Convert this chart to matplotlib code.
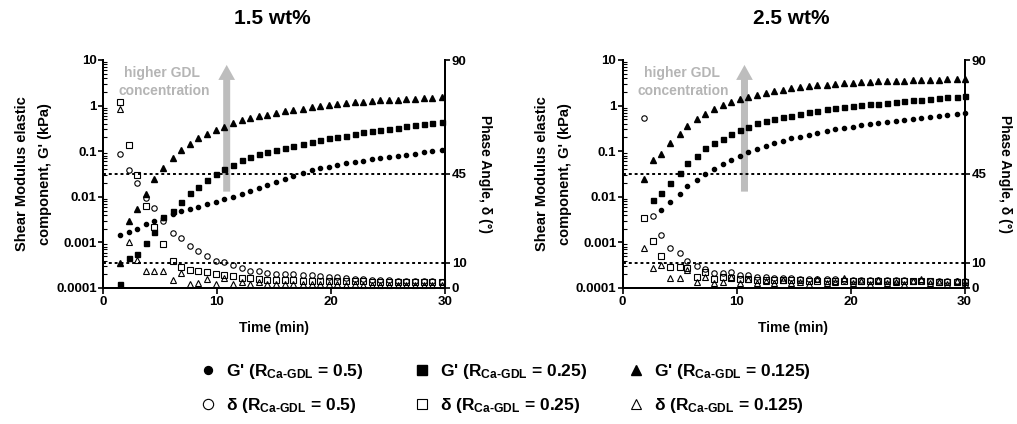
import numpy as np
import matplotlib.pyplot as plt
from matplotlib.ticker import LogLocator, NullFormatter

plt.rcParams['font.family'] = ['Liberation Sans', 'DejaVu Sans']
plt.rcParams['font.weight'] = 'bold'
plt.rcParams['mathtext.fontset'] = 'custom'
plt.rcParams['mathtext.rm'] = 'Liberation Sans:bold'
plt.rcParams['mathtext.bf'] = 'Liberation Sans:bold'
plt.rcParams['mathtext.it'] = 'Liberation Sans:bold'

# ---- data: 1.5 wt% ----
left_time = [1.5, 2.3, 3.0, 3.8, 4.5, 5.3, 6.1, 6.8, 7.6, 8.3, 9.1, 9.9, 10.6, 11.4,
             12.2, 12.9, 13.7, 14.4, 15.2, 16.0, 16.7, 17.5, 18.3, 19.0, 19.8, 20.5,
             21.3, 22.1, 22.8, 23.6, 24.3, 25.1, 25.9, 26.6, 27.4, 28.2, 28.9, 29.7]
left_g_05 = [0.00144, 0.0017, 0.002, 0.0025, 0.003, 0.0035, 0.0042, 0.0049, 0.0054, 0.006,
             0.0069, 0.0078, 0.0089, 0.010, 0.0116, 0.0137, 0.0155, 0.018, 0.021, 0.025,
             0.029, 0.033, 0.038, 0.042, 0.046, 0.050, 0.054, 0.058, 0.062, 0.066, 0.070,
             0.074, 0.079, 0.084, 0.089, 0.095, 0.101, 0.107]
left_g_025 = [0.00012, 0.00046, 0.00055, 0.00095, 0.0017, 0.0036, 0.0050, 0.0078, 0.012,
              0.0166, 0.0235, 0.031, 0.041, 0.051, 0.063, 0.075, 0.087, 0.098, 0.108, 0.12,
              0.13, 0.145, 0.16, 0.175, 0.19, 0.205, 0.22, 0.24, 0.26, 0.275, 0.29, 0.31,
              0.33, 0.35, 0.37, 0.39, 0.41, 0.43]
left_g_0125 = [0.00036, 0.0030, 0.0054, 0.0114, 0.024, 0.042, 0.072, 0.108, 0.146, 0.19,
               0.24, 0.29, 0.345, 0.41, 0.48, 0.54, 0.59, 0.63, 0.69, 0.75, 0.80, 0.86,
               0.92, 0.98, 1.03, 1.08, 1.13, 1.18, 1.22, 1.26, 1.30, 1.33, 1.36, 1.40,
               1.43, 1.46, 1.49, 1.52]
left_d_05 = [52.9, 46.6, 41.3, 35.4, 31.5, 26.5, 21.7, 19.6, 16.6, 14.6, 12.6, 10.8, 10.1,
             9.2, 7.8, 6.8, 6.6, 5.8, 5.6, 5.6, 5.5, 5.3, 5.1, 4.8, 4.5, 4.2, 3.9, 3.7,
             3.5, 3.3, 3.1, 3.0, 2.9, 2.8, 2.7, 2.6, 2.6, 2.5]
left_d_025 = [73.4, 56.5, 44.8, 32.3, 23.9, 17.4, 10.5, 8.4, 7.1, 6.6, 6.2, 5.5, 5.0, 4.6,
              4.0, 3.8, 3.4, 3.3, 3.1, 3.0, 3.0, 2.9, 2.9, 2.8, 2.8, 2.7, 2.7, 2.6, 2.6,
              2.5, 2.5, 2.5, 2.4, 2.4, 2.4, 2.3, 2.3, 2.3]
left_d_0125 = [70.5, 18.3, 11.2, 6.7, 6.7, 6.7, 3.1, 5.8, 1.4, 2.0, 3.6, 1.7, 3.9, 1.5,
               2.2, 1.7, 2.4, 1.5, 1.5, 1.6, 1.5, 1.4, 1.5, 1.4, 1.4, 1.5, 1.3, 1.4, 1.3,
               1.3, 1.3, 1.2, 1.3, 1.2, 1.2, 1.2, 1.2, 1.2]

# ---- data: 2.5 wt% ----
right_time = [1.9, 2.7, 3.4, 4.2, 5.0, 5.7, 6.5, 7.2, 8.0, 8.8, 9.5, 10.3, 11.0, 11.8,
              12.6, 13.3, 14.1, 14.8, 15.6, 16.4, 17.1, 17.9, 18.6, 19.4, 20.2, 20.9,
              21.7, 22.4, 23.2, 24.0, 24.7, 25.5, 26.2, 27.0, 27.8, 28.5, 29.3, 30.0]
right_g_05 = [np.nan, np.nan, 0.0051, 0.0078, 0.0115, 0.0175, 0.0235, 0.032, 0.041, 0.053,
              0.065, 0.080, 0.096, 0.113, 0.13, 0.15, 0.17, 0.19, 0.21, 0.23, 0.25, 0.275,
              0.30, 0.32, 0.345, 0.37, 0.39, 0.41, 0.435, 0.46, 0.485, 0.51, 0.54, 0.57,
              0.60, 0.63, 0.66, 0.69]
right_g_025 = [np.nan, 0.0085, 0.0123, 0.020, 0.033, 0.055, 0.080, 0.117, 0.148, 0.185,
               0.235, 0.29, 0.345, 0.41, 0.46, 0.50, 0.555, 0.60, 0.66, 0.72, 0.78, 0.84,
               0.89, 0.94, 0.99, 1.03, 1.07, 1.10, 1.15, 1.20, 1.25, 1.30, 1.35, 1.40,
               1.46, 1.52, 1.58, 1.65]
right_g_0125 = [0.025, 0.063, 0.089, 0.148, 0.235, 0.36, 0.52, 0.66, 0.84, 1.03, 1.22,
                1.42, 1.57, 1.74, 1.92, 2.09, 2.23, 2.4, 2.52, 2.65, 2.77, 2.88, 2.98,
                3.07, 3.15, 3.23, 3.31, 3.38, 3.44, 3.50, 3.55, 3.60, 3.65, 3.69, 3.73,
                3.77, 3.80, 3.83]
right_d_05 = [67.2, 28.5, 20.9, 15.9, 13.7, 10.7, 8.8, 7.5, 5.8, 5.8, 6.4, 5.0, 5.1, 4.5,
              4.2, 4.0, 3.9, 3.8, 3.7, 3.6, 3.5, 3.4, 3.4, 3.3, 3.3, 3.2, 3.1, 3.1, 3.0,
              3.0, 3.0, 2.9, 2.9, 2.9, 2.8, 2.8, 2.8, 2.8]
right_d_025 = [27.5, 18.7, 12.6, 8.4, 8.2, 8.0, 4.5, 6.4, 3.4, 4.5, 4.0, 3.5, 3.4, 3.3,
               3.2, 3.1, 3.1, 3.0, 3.0, 2.9, 2.9, 2.9, 2.8, 2.8, 2.8, 2.7, 2.7, 2.7, 2.7,
               2.6, 2.6, 2.6, 2.6, 2.6, 2.5, 2.5, 2.5, 2.5]
right_d_0125 = [15.7, 7.8, 9.1, 3.8, 3.9, 7.1, 2.5, 4.5, 1.8, 2.5, 4.5, 1.8, 3.5, 2.0,
                2.8, 1.8, 3.2, 2.0, 2.5, 1.6, 3.6, 1.8, 2.2, 3.8, 1.8, 2.6, 1.6, 3.2, 1.8,
                2.4, 1.5, 2.8, 3.6, 1.8, 2.2, 1.6, 2.6, 1.5]

panel_titles = ['1.5 wt%', '2.5 wt%']
ratio_labels = ['0.5', '0.25', '0.125']
g_ticks = [0.0001, 0.001, 0.01, 0.1, 1, 10]
g_tick_labels = ['0.0001', '0.001', '0.01', '0.1', '1', '10']
phase_ticks = [0, 10, 45, 90]
phase_guides = [45, 10]
time_ticks = [0, 10, 20, 30]
arrow_time = [10.85, 10.7]

W, H = 1017, 424
fig = plt.figure(figsize=(W / 100, H / 100), dpi=100)


def fx(x):
    return x / W


def fy(y):
    return 1 - y / H


markers = ['o', 's', '^']
g_sizes = [3.0, 3.6, 4.6]
d_sizes = [3.9, 4.1, 4.9]
legend_scale = [1.9, 1.9, 1.6]
handles_g, handles_d = [], []


def draw_panel(x0, time, g_series, d_series, title, arrow_t):
    ax = fig.add_axes([fx(x0), fy(288), fx(342), 228 / H])
    tw = ax.twinx()

    for k, g in enumerate(g_series):
        h, = ax.plot(time, g, ls='none', marker=markers[k], ms=g_sizes[k], color='black',
                     mec='black', mfc='black', clip_on=False, zorder=3)
        handles_g.append(h)
    for k, d in enumerate(d_series):
        h, = tw.plot(time, d, ls='none', marker=markers[k], ms=d_sizes[k], color='black',
                     mec='black', mfc='none', mew=0.8, clip_on=False, zorder=3)
        handles_d.append(h)
    for p in phase_guides:
        tw.axhline(p, color='black', lw=1.4, ls=(0, (1.5, 1.5)), zorder=1)

    ax.set_xlim(0, 30)
    ax.set_yscale('log')
    ax.set_ylim(1e-4, 10)
    ax.set_yticks(g_ticks, labels=g_tick_labels)
    ax.yaxis.set_minor_locator(LogLocator(base=10, subs=np.arange(2, 10)))
    ax.yaxis.set_minor_formatter(NullFormatter())
    ax.set_xticks(time_ticks)
    tw.set_ylim(0, 90)
    tw.set_yticks(phase_ticks)

    for a in (ax, tw):
        a.spines['top'].set_visible(False)
        for s in ('left', 'right', 'bottom'):
            a.spines[s].set_linewidth(1.4)
    ax.tick_params(axis='y', which='major', length=3.5, width=1.2, pad=1, labelsize=9.5)
    ax.tick_params(axis='y', which='minor', direction='in', length=3, width=0.8)
    ax.tick_params(axis='x', length=4, width=1.2, pad=2, labelsize=9.5)
    tw.tick_params(axis='y', length=3.5, width=1.2, pad=1.5, labelsize=9.5)

    ax.annotate('', xy=(arrow_t, 7.8), xytext=(arrow_t, 0.013),
                arrowprops=dict(arrowstyle='simple,head_length=0.9,head_width=1.0,tail_width=0.42',
                                mutation_scale=12, color='#bdbdbd', lw=0,
                                shrinkA=0, shrinkB=0), zorder=0)

    cx = x0 + 171
    fig.text(fx(cx - 2), fy(18), title, ha='center', va='center', fontsize=15)
    fig.text(fx(cx), fy(328), 'Time (min)', ha='center', va='center', fontsize=10)
    fig.text(fx(x0 - 81), fy(174), 'Shear Modulus elastic', rotation=90,
             ha='center', va='center', fontsize=10.5)
    fig.text(fx(x0 - 58), fy(174), "component, G' (kPa)", rotation=90,
             ha='center', va='center', fontsize=10.5)
    fig.text(fx(x0 + 382), fy(174), 'Phase Angle, \u03b4 (\u00b0)', rotation=-90,
             ha='center', va='center', fontsize=10)
    fig.text(fx(x0 + 59), fy(73), 'higher GDL', ha='center', va='center',
             fontsize=10, color='#b5b5b5')
    fig.text(fx(x0 + 61), fy(91), 'concentration', ha='center', va='center',
             fontsize=10, color='#b5b5b5')
    return ax


draw_panel(103, left_time, [left_g_05, left_g_025, left_g_0125],
           [left_d_05, left_d_025, left_d_0125], panel_titles[0], arrow_time[0])
draw_panel(622.5, right_time, [right_g_05, right_g_025, right_g_0125],
           [right_d_05, right_d_025, right_d_0125], panel_titles[1], arrow_time[1])

# legend: one column per ratio, G' on top and delta below
col_x = [208, 422, 636]
for k, r in enumerate(ratio_labels):
    sub = r'$_{\mathrm{Ca\text{-}GDL}}$'
    labels = ["G' (R" + sub + ' = ' + r + ')', '\u03b4 (R' + sub + ' = ' + r + ')']
    leg = fig.legend([handles_g[k], handles_d[k]], labels, loc='center left',
                     bbox_to_anchor=(fx(col_x[k] - 9), fy(388.5)), frameon=False,
                     fontsize=12.5, handlelength=1.0, handletextpad=0.55,
                     labelspacing=0.85, borderpad=0, borderaxespad=0, numpoints=1,
                     markerscale=legend_scale[k])

fig.savefig('out.png', dpi=100)
